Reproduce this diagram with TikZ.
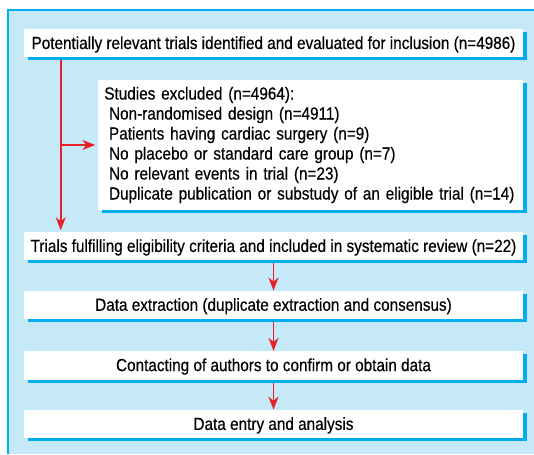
\documentclass[tikz,border=0pt]{standalone}
\usepackage{fontspec}
\setmainfont{Liberation Sans}[FakeStretch=0.875,FakeBold=0.4]
\usetikzlibrary{shadows,arrows.meta,backgrounds}
\definecolor{bgblue}{HTML}{C6E9F8}
\definecolor{sblue}{HTML}{00AEEF}
\definecolor{fred}{HTML}{E8202A}
\begin{document}
\begin{tikzpicture}[x=1pt,y=1pt,
  box/.style={fill=white, inner sep=0pt,
    general shadow={fill=sblue, shadow xshift=4pt, shadow yshift=-3pt},
    font=\fontsize{17.5}{20}\selectfont, text=black},
  wbox/.style={box, minimum width=499pt, minimum height=28.5pt,
    text height=13.8pt, text depth=2.3pt},
  arr/.style={draw=fred, line width=1.6pt,
    -{Stealth[length=13pt,width=10pt,inset=4pt]}}]
\useasboundingbox (0,0) rectangle (534,-454);
\begin{pgfonlayer}{background}
\fill[white] (0,0) rectangle (534,-454);
\fill[bgblue] (8,-10) rectangle (534,-454);
\draw[sblue, line width=1.3pt] (8,-454) -- (8,-10) -- (534,-10);
\end{pgfonlayer}

\node[wbox] (b1) at (273.5,-43.25) {Potentially relevant trials identified and evaluated for inclusion (n=4986)};
\node[box, minimum width=425pt, minimum height=130pt, text width=412.4pt,
      inner xsep=6.3pt, align=left] (b2) at (310.5,-145)
  {Studies excluded (n=4964):\\
   \hspace*{0.27em}Non-randomised design (n=4911)\\
   \hspace*{0.27em}Patients having cardiac surgery (n=9)\\
   \hspace*{0.27em}No placebo or standard care group (n=7)\\
   \hspace*{0.27em}No relevant events in trial (n=23)\\
   \hspace*{0.27em}Duplicate publication or substudy of an eligible trial (n=14)};
\node[wbox] (b3) at (273.5,-246.2) {Trials fulfilling eligibility criteria and included in systematic review (n=22)};
\node[wbox] (b4) at (273.5,-305) {Data extraction (duplicate extraction and consensus)};
\node[wbox] (b5) at (273.5,-365.35) {Contacting of authors to confirm or obtain data};
\node[wbox] (b6) at (273.5,-424.15) {Data entry and analysis};

\coordinate (vx) at (60.7,0);
\begin{pgfonlayer}{background}
\draw[arr, shorten >=1.5pt] (b1.south -| vx) -- (b3.north -| vx);
\draw[arr, shorten >=2.5pt] (vx |- b2.west) -- (b2.west);
\draw[arr] (b3.south) -- (b4.north);
\draw[arr] (b4.south) -- (b5.north);
\draw[arr] (b5.south) -- (b6.north);
\end{pgfonlayer}
\end{tikzpicture}
\end{document}
